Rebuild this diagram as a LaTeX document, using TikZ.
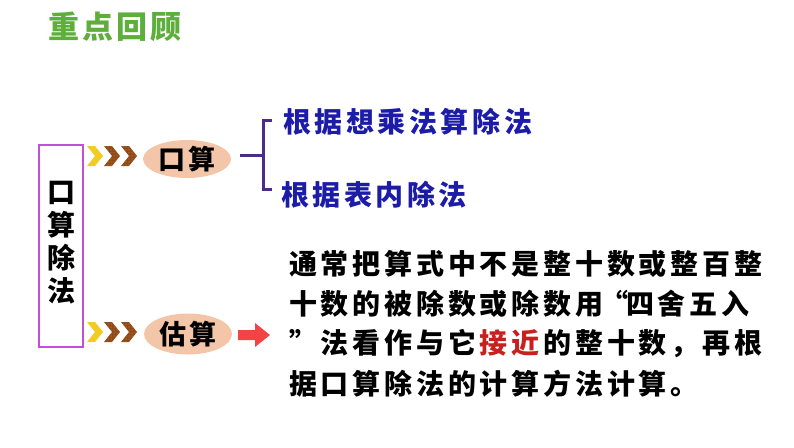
\documentclass[tikz,border=0pt]{standalone}
\usepackage{fontspec}
\setmainfont{Noto Sans CJK SC}
\usetikzlibrary{patterns,shapes.geometric}
\definecolor{titlegreen}{HTML}{5DAE3B}
\definecolor{boxviolet}{HTML}{C050D8}
\definecolor{peach}{HTML}{F3C6AA}
\definecolor{bracketpurple}{HTML}{4B2C86}
\definecolor{textblue}{HTML}{1C1CA8}
\definecolor{hotred}{HTML}{C8201E}
\definecolor{arrowred}{HTML}{F24444}
\definecolor{chevyellow}{HTML}{F2CC22}
\definecolor{chevbrown}{HTML}{8E4A1A}
\definecolor{chevdot}{HTML}{F0A040}
\newlength\pitch
\def\gridline#1{\glloop#1\relax}
\def\glloop#1{\ifx\relax#1\else\makebox[\pitch][c]{#1}\expandafter\glloop\fi}
\tikzset{
  chev/.pic={\path[pic actions] (0,-10)--(8,-10)--(16,0)--(8,10)--(0,10)--(8,0)--cycle;},
  yellowchev/.style={fill=chevyellow},
  brownchev/.style={fill=chevbrown},
  dotchev/.style={pattern=dots, pattern color=chevdot},
  oval/.style={ellipse, fill=peach, minimum width=88pt, minimum height=38pt, inner sep=0pt,
    font=\fontsize{27}{27}\selectfont\bfseries},
  bluetext/.style={anchor=west, inner sep=0pt, text=textblue, font=\fontsize{28}{28}\selectfont\bfseries},
  paratext/.style={anchor=west, inner sep=0pt, font=\fontsize{28}{28}\selectfont\bfseries},
  brk/.style={draw=bracketpurple, line width=3pt},
}
\begin{document}
\begin{tikzpicture}[x=1pt,y=-1pt]
\useasboundingbox (0,0) rectangle (794,447);
% title
\node[inner sep=0pt, text=titlegreen, font=\fontsize{31}{31}\selectfont\bfseries] (title) at (115,27)
  {\setlength\pitch{34pt}\gridline{重点回顾}};
% vertical box
\draw[boxviolet, line width=1.2pt] (39,145) rectangle (83,347);
\node[inner sep=0pt, font=\fontsize{28}{28}\selectfont\bfseries, align=center] (vt) at (61,243)
  {\parbox{32pt}{\centering\baselineskip=33pt 口\\算\\除\\法}};
% chevrons top
\pic[yellowchev] at (87,156) {chev};
\pic[brownchev] at (104,156) {chev};
\pic[dotchev] at (104,156) {chev};
\pic[brownchev] at (121,156) {chev};
\pic[dotchev] at (121,156) {chev};
% chevrons bottom
\pic[yellowchev] at (87,332) {chev};
\pic[brownchev] at (104,332) {chev};
\pic[dotchev] at (104,332) {chev};
\pic[brownchev] at (121,332) {chev};
\pic[dotchev] at (121,332) {chev};
% ovals
\node[oval] (ks) at (187,159) {\setlength\pitch{30pt}\gridline{口算}};
\node[oval, minimum height=41pt] (gs) at (188,334) {\setlength\pitch{30pt}\gridline{估算}};
% bracket
\coordinate (b0) at (240,155);
\coordinate (bm) at (263,155);
\coordinate (bt) at (263,120);
\coordinate (bb) at (263,189);
\coordinate (btr) at (272,120);
\coordinate (bbr) at (272,189);
\draw[brk] (b0) -- (bm);
\draw[brk, line cap=butt] (btr) -- (bt) -- (bb) -- (bbr);
% blue texts
\node[bluetext] (m1) at (281,122) {\setlength\pitch{31.6pt}\gridline{根据想乘法算除法}};
\node[bluetext] (m2) at (279,195) {\setlength\pitch{31.6pt}\gridline{根据表内除法}};
% red arrow
\fill[arrowred] (238,330) -- (255,330) -- (255,323) -- (270,335) -- (255,347) -- (255,340) -- (238,340) -- cycle;
% paragraph
\node[paratext] (p1) at (287,264) {\setlength\pitch{31.8pt}\gridline{通常把算式中不是整十数或整百整}};
\node[paratext] (p2) at (287,304) {\setlength\pitch{31.8pt}\gridline{十数的被除数或除数用}\makebox[.6\pitch][c]{“}\gridline{四舍五入}};
\node[paratext] (p3) at (287,344) {\setlength\pitch{31.8pt}\gridline{”法看作与它}\textcolor{hotred}{\gridline{接近}}\gridline{的整十数，再根}};
\node[paratext] (p4) at (287,384) {\setlength\pitch{31.8pt}\gridline{据口算除法的计算方法计算。}};
\end{tikzpicture}
\end{document}
